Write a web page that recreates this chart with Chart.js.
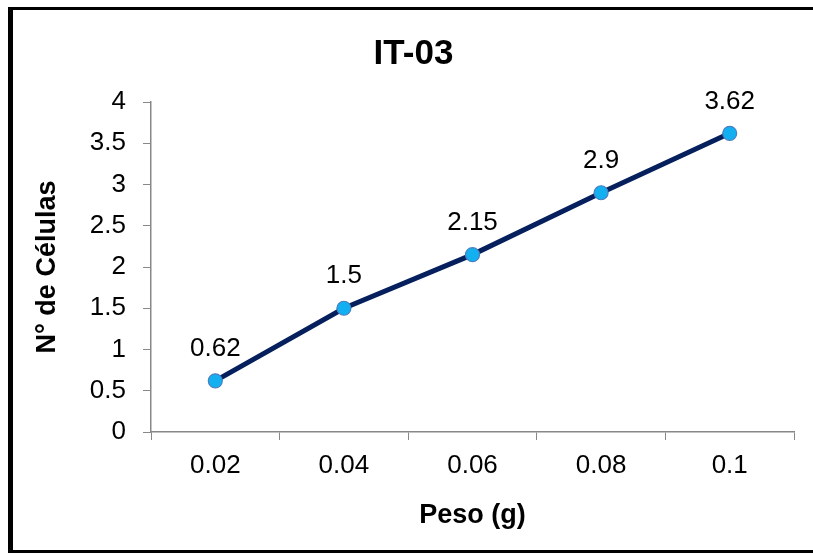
<!DOCTYPE html>
<html>
<head>
<meta charset="utf-8">
<script src="https://cdn.jsdelivr.net/npm/chart.js@4.4.1/dist/chart.umd.min.js"></script>
<style>
  html, body { margin: 0; padding: 0; background: #fff; }
  #wrap { position: relative; width: 813px; height: 554px; overflow: hidden; }
  #frame {
    position: absolute; left: 8px; top: 7px; width: 830px; height: 540px;
    border-left: 5px solid #000; border-top: 3px solid #000; border-bottom: 3px solid #000;
    pointer-events: none;
  }
  canvas { position: absolute; left: 0; top: 0; }
</style>
</head>
<body>
<div id="wrap">
  <canvas id="myChart" width="813" height="554"></canvas>
  <div id="frame"></div>
</div>
<script>
const pesos = ['0.02', '0.04', '0.06', '0.08', '0.1'];
const celulas = [0.62, 1.5, 2.15, 2.9, 3.62];

const FONT = "Arial, 'Liberation Sans', sans-serif";

// value labels above each point
const valueLabels = {
  id: 'valueLabels',
  afterDatasetsDraw(chart) {
    const ctx = chart.ctx;
    const meta = chart.getDatasetMeta(0);
    ctx.save();
    ctx.font = '26px ' + FONT;
    ctx.fillStyle = '#000';
    ctx.textAlign = 'center';
    ctx.textBaseline = 'middle';
    meta.data.forEach((pt, i) => {
      ctx.fillText(String(celulas[i]), pt.x, pt.y - 32);
    });
    ctx.restore();
  }
};

const ctx = document.getElementById('myChart');

new Chart(ctx, {
  type: 'line',
  data: {
    labels: pesos,
    datasets: [{
      label: 'IT-03',
      data: celulas,
      borderColor: '#06205e',
      borderWidth: 5,
      pointRadius: 7,
      pointHoverRadius: 7,
      pointBackgroundColor: '#12b0f0',
      pointBorderColor: '#4a7fc0',
      pointBorderWidth: 1.2,
      tension: 0
    }]
  },
  options: {
    responsive: false,
    animation: false,
    layout: { padding: { left: 14, right: 0, top: 0, bottom: 0 } },
    scales: {
      x: {
        offset: true,
        grid: {
          offset: true,
          drawOnChartArea: false,
          drawTicks: true,
          tickLength: 8,
          color: '#888'
        },
        border: { display: true, color: '#888', width: 1.5 },
        ticks: { color: '#000', font: { size: 26, family: FONT }, padding: 10 },
        title: {
          display: true,
          text: 'Peso (g)',
          color: '#000',
          font: { size: 27, weight: 'bold', family: FONT },
          padding: { top: 0, bottom: 22 }
        },
        afterFit(scale) { scale.height = 122; }
      },
      y: {
        min: 0,
        max: 4,
        grid: {
          drawOnChartArea: false,
          drawTicks: true,
          tickLength: 8,
          color: '#888'
        },
        border: { display: true, color: '#888', width: 1.5 },
        ticks: {
          stepSize: 0.5,
          color: '#000',
          font: { size: 26, family: FONT },
          padding: 17,
          callback: (v) => String(v)
        },
        title: {
          display: true,
          text: 'N° de Células',
          color: '#000',
          font: { size: 27, weight: 'bold', family: FONT },
          padding: { top: 17, bottom: 0 }
        },
        afterFit(scale) { scale.width = 137; }
      },
      // empty strip on the right so the plot ends short of the frame
      yRight: {
        position: 'right',
        display: true,
        grid: { display: false },
        border: { display: false },
        ticks: { display: false },
        afterFit(scale) { scale.width = 19; }
      }
    },
    plugins: {
      legend: { display: false },
      tooltip: { enabled: false },
      title: {
        display: true,
        text: 'IT-03',
        color: '#000',
        font: { size: 35, weight: 'bold', family: FONT },
        padding: { top: 33, bottom: 27 }
      }
    }
  },
  plugins: [valueLabels]
});
</script>
</body>
</html>
